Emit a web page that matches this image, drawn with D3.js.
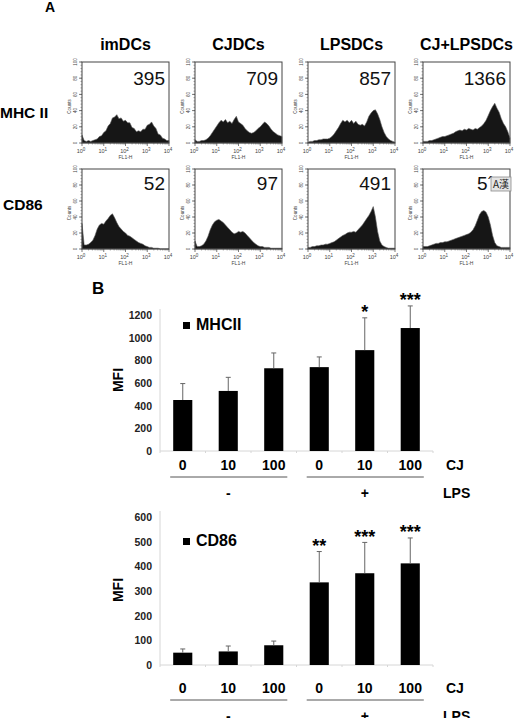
<!DOCTYPE html>
<html>
<head>
<meta charset="utf-8">
<script src="https://cdn.jsdelivr.net/npm/d3@7"></script>
<style>
  body { margin:0; background:#fff; }
  svg { display:block; font-family:"Liberation Sans", Arial, sans-serif; }
</style>
</head>
<body>
<script>
// ---------- panel A data ----------
var cellTypes = ["imDCs", "CJDCs", "LPSDCs", "CJ+LPSDCs"];
var markers = ["MHC II", "CD86"];
var mfiMHC = ["395", "709", "857", "1366"];
var mfiCD86 = ["52", "97", "491", "5´"];
// FL1-H channel, log10 decades
var logBins = [0,0.1,0.2,0.3,0.4,0.5,0.6,0.7,0.8,0.9,1,1.1,1.2,1.3,1.4,1.5,1.6,1.7,1.8,1.9,2,
               2.1,2.2,2.3,2.4,2.5,2.6,2.7,2.8,2.9,3,3.1,3.2,3.3,3.4,3.5,3.6,3.7,3.8,3.9,4];
var countTicks = [0, 20, 40, 60, 80, 100];
var decadeTicks = [0, 1, 2, 3, 4];

var mhcIm    = [10,3,2,3,2,3,4,5,8,9, 13,15,21,24,31,32,35,30,31,27, 28,25,25,19,18,14,15,14,17,17, 22,23,26,21,18,11,10,6,5,3, 3];
var mhcCj    = [4,2,2,3,3,4,6,9,13,17, 21,25,28,26,29,25,27,24,29,33, 26,24,22,18,15,13,12,13,15,18, 20,23,26,24,21,17,14,12,10,9, 8];
var mhcLps   = [1,2,2,3,3,4,4,5,5,5, 6,8,11,15,19,24,28,26,28,25, 28,24,27,23,22,23,21,26,33,37, 40,41,36,29,20,13,8,5,3,2, 1];
var mhcCjLps = [2,2,2,3,3,4,5,6,7,8, 8,9,10,11,12,14,15,16,15,17, 16,18,17,16,18,17,19,21,24,28, 34,40,45,49,43,38,30,24,20,14, 6];
var cdIm     = [32,5,5,6,8,11,17,25,30,32, 31,35,38,42,44,39,33,28,25,22, 20,17,16,14,12,10,8,7,6,4, 3,2,2,1,1,1,0,0,0,0, 0];
var cdCj     = [10,3,3,4,6,10,16,24,30,34, 36,37,35,33,30,27,24,21,19,20, 22,21,22,20,17,14,11,8,6,4, 3,3,2,2,2,1,1,1,1,1, 1];
var cdLps    = [2,2,3,3,4,4,5,5,6,6, 7,8,9,11,13,15,17,18,20,21, 21,22,21,24,27,30,34,38,42,47, 53,40,22,10,5,3,2,1,1,1, 1];
var cdCjLps  = [3,3,3,4,5,6,7,7,8,8, 9,9,10,11,12,13,14,15,16,17, 18,19,21,24,29,36,43,47,48,46, 40,30,17,8,4,3,2,2,2,2, 2];

// ---------- panel B data ----------
var cjDose = ["0", "10", "100", "0", "10", "100"];
var lpsLabels = ["-", "+"];
var mhcMean = [450, 530, 730, 740, 890, 1085];
var mhcErr  = [145, 120, 135, 90, 285, 195];
var mhcStars = ["", "", "", "", "*", "***"];
var mhcTicks = [0, 200, 400, 600, 800, 1000, 1200];
var cd86Mean = [50, 55, 80, 335, 372, 412];
var cd86Err  = [15, 22, 17, 125, 125, 103];
var cd86Stars = ["", "", "", "**", "***", "***"];
var cd86Ticks = [0, 100, 200, 300, 400, 500, 600];

var W = 517, H = 718;
var svg = d3.select("body").append("svg").attr("width", W).attr("height", H);

// ================= Panel A =================
svg.append("text").attr("x", 45).attr("y", 12).attr("font-size", 14).attr("font-weight", "bold").text("A");

var boxLeft = [82, 195, 308, 423], boxW = 87;
var rowTop = [62, 169], rowBot = [143, 249];
var numBase = [85, 190];
var hists = [[mhcIm, mhcCj, mhcLps, mhcCjLps], [cdIm, cdCj, cdLps, cdCjLps]];
var nums = [mfiMHC, mfiCD86];

cellTypes.forEach(function(t, i){
  svg.append("text").attr("x", boxLeft[i] + boxW/2).attr("y", 50)
    .attr("text-anchor", "middle").attr("font-size", 16).attr("font-weight", "bold").text(t);
});
svg.append("text").attr("x", 0).attr("y", 118).attr("font-size", 15.5).attr("font-weight", "bold").text(markers[0]);
svg.append("text").attr("x", 3).attr("y", 210).attr("font-size", 15.5).attr("font-weight", "bold").text(markers[1]);

function drawHisto(data, left, top, bot, num){
  var g = svg.append("g");
  var xs = d3.scaleLinear().domain([0, 4]).range([left, left + boxW]);
  var ys = d3.scaleLinear().domain([0, 100]).range([bot, top]);

  var area = d3.area()
    .x(function(d, i){ return xs(logBins[i]); })
    .y0(ys(0))
    .y1(function(d){ return ys(d); });
  g.append("path").datum(data).attr("d", area)
    .attr("fill", "#161616").attr("stroke", "#5a5a5a").attr("stroke-width", 0.6);

  g.append("rect").attr("x", left).attr("y", top).attr("width", boxW).attr("height", bot - top)
    .attr("fill", "none").attr("stroke", "#444").attr("stroke-width", 1);

  // y ticks: minor every 4 counts, major every 20
  var minor = d3.range(0, 101, 4);
  g.selectAll(".ym").data(minor).enter().append("line")
    .attr("x1", left).attr("x2", left - 1.5)
    .attr("y1", function(d){ return ys(d); }).attr("y2", function(d){ return ys(d); })
    .attr("stroke", "#555").attr("stroke-width", 0.5);
  g.selectAll(".yM").data(countTicks).enter().append("line")
    .attr("x1", left).attr("x2", left - 3)
    .attr("y1", function(d){ return ys(d); }).attr("y2", function(d){ return ys(d); })
    .attr("stroke", "#444").attr("stroke-width", 0.7);
  g.selectAll(".yl").data(countTicks).enter().append("text")
    .attr("transform", function(d){ return "translate(" + (left - 5) + "," + ys(d) + ") rotate(-90)"; })
    .attr("text-anchor", "middle").attr("font-size", 4.5).attr("fill", "#444").text(function(d){ return d; });
  g.append("text")
    .attr("transform", "translate(" + (left - 11) + "," + ((top + bot)/2 + 4) + ") rotate(-90)")
    .attr("text-anchor", "middle").attr("font-size", 4.5).attr("fill", "#444").text("Counts");

  // x log ticks
  var minorX = [];
  [0, 1, 2, 3].forEach(function(dec){
    [2, 3, 4, 5, 6, 7, 8, 9].forEach(function(m){ minorX.push(dec + Math.log10(m)); });
  });
  g.selectAll(".xm").data(minorX).enter().append("line")
    .attr("x1", function(d){ return xs(d); }).attr("x2", function(d){ return xs(d); })
    .attr("y1", bot).attr("y2", bot + 1.5).attr("stroke", "#555").attr("stroke-width", 0.5);
  g.selectAll(".xM").data(decadeTicks).enter().append("line")
    .attr("x1", function(d){ return xs(d); }).attr("x2", function(d){ return xs(d); })
    .attr("y1", bot).attr("y2", bot + 3).attr("stroke", "#444").attr("stroke-width", 0.7);
  var xl = g.selectAll(".xl").data(decadeTicks).enter().append("text")
    .attr("x", function(d){ return xs(d) - 1; }).attr("y", bot + 10)
    .attr("text-anchor", "middle").attr("font-size", 5.5).attr("fill", "#444");
  xl.append("tspan").text("10");
  xl.append("tspan").attr("dy", -2.5).attr("font-size", 4.5).text(function(d){ return d; });
  g.append("text").attr("x", left + boxW/2).attr("y", bot + 16)
    .attr("text-anchor", "middle").attr("font-size", 5).attr("fill", "#444").text("FL1-H");

  g.append("text").attr("x", num.x).attr("y", num.y)
    .attr("text-anchor", num.anchor).attr("font-size", 19).attr("fill", "#111").text(num.txt);
}

for (var r = 0; r < 2; r++){
  for (var c = 0; c < 4; c++){
    var last = (r === 1 && c === 3);
    var lbl = { txt: nums[r][c], y: numBase[r],
                x: last ? 477 : boxLeft[c] + boxW - 4, anchor: last ? "start" : "end" };
    drawHisto(hists[r][c], boxLeft[c], rowTop[r], rowBot[r], lbl);
  }
}
// IME badge overlaid on the last CD86 number in the source image
svg.append("rect").attr("x", 491).attr("y", 177).attr("width", 20).attr("height", 14)
  .attr("fill", "#e4e4e4").attr("stroke", "#8a8a8a").attr("stroke-width", 0.8);
svg.append("text").attr("x", 501).attr("y", 188).attr("text-anchor", "middle")
  .attr("font-size", 10).attr("fill", "#222").attr("font-family", "'Noto Sans CJK SC', sans-serif").text("A漢");

// ================= Panel B =================
svg.append("text").attr("x", 92).attr("y", 294).attr("font-size", 17).attr("font-weight", "bold").text("B");

var x = d3.scaleBand().domain(d3.range(cjDose.length)).range([160, 433])
  .paddingInner(0.58).paddingOuter(0.29);

function drawBars(opt){
  var g = svg.append("g");
  var y = d3.scaleLinear().domain([0, opt.max]).range([opt.y0, opt.y1]);

  // axis lines
  g.append("line").attr("x1", 160).attr("x2", 160).attr("y1", y(opt.max) - 6).attr("y2", y(0))
    .attr("stroke", "#d6d6d6").attr("stroke-width", 1);
  g.append("line").attr("x1", 160).attr("x2", 433).attr("y1", y(0)).attr("y2", y(0))
    .attr("stroke", "#d6d6d6").attr("stroke-width", 1);
  g.selectAll(".bt").data(d3.range(cjDose.length + 1)).enter().append("line")
    .attr("x1", function(d){ return 160 + d * x.step(); }).attr("x2", function(d){ return 160 + d * x.step(); })
    .attr("y1", y(0)).attr("y2", y(0) + 2).attr("stroke", "#d6d6d6");

  var yAxis = d3.axisLeft(y).tickValues(opt.ticks).tickFormat(d3.format("d")).tickSize(0).tickPadding(8);
  var ax = g.append("g").attr("transform", "translate(160,0)").call(yAxis);
  ax.select(".domain").remove();
  ax.selectAll("text").attr("font-size", 10.5).attr("font-weight", "bold").attr("fill", "#222")
    .attr("font-family", "'Liberation Sans', Arial, sans-serif");

  g.append("text").attr("transform", "translate(123," + opt.mfiY + ") rotate(-90)")
    .attr("text-anchor", "middle").attr("font-size", 14).attr("font-weight", "bold").text("MFI");

  // bars
  g.selectAll(".bar").data(opt.mean).enter().append("rect")
    .attr("x", function(d, i){ return x(i); }).attr("width", x.bandwidth())
    .attr("y", function(d){ return y(d); }).attr("height", function(d){ return y(0) - y(d); })
    .attr("fill", "#000");
  // error bars (upper only)
  g.selectAll(".eb").data(opt.mean).enter().append("line")
    .attr("x1", function(d, i){ return x(i) + x.bandwidth()/2; })
    .attr("x2", function(d, i){ return x(i) + x.bandwidth()/2; })
    .attr("y1", function(d){ return y(d); })
    .attr("y2", function(d, i){ return y(d + opt.err[i]); })
    .attr("stroke", "#666").attr("stroke-width", 1);
  g.selectAll(".ec").data(opt.mean).enter().append("line")
    .attr("x1", function(d, i){ return x(i) + x.bandwidth()/2 - 2.5; })
    .attr("x2", function(d, i){ return x(i) + x.bandwidth()/2 + 2.5; })
    .attr("y1", function(d, i){ return y(d + opt.err[i]); })
    .attr("y2", function(d, i){ return y(d + opt.err[i]); })
    .attr("stroke", "#666").attr("stroke-width", 1);
  // significance stars
  g.selectAll(".st").data(opt.stars).enter().append("text")
    .attr("x", function(d, i){ return x(i) + x.bandwidth()/2; })
    .attr("y", function(d, i){ return y(opt.mean[i] + opt.err[i]) + 0.5; })
    .attr("text-anchor", "middle").attr("font-size", 18).attr("font-weight", "bold").text(function(d){ return d; });

  // legend
  g.append("rect").attr("x", 183).attr("y", opt.legY - 8).attr("width", 7).attr("height", 7).attr("fill", "#000");
  g.append("text").attr("x", 196).attr("y", opt.legY).attr("font-size", 16).attr("font-weight", "bold").text(opt.name);

  // CJ dose labels
  g.selectAll(".xl").data(cjDose).enter().append("text")
    .attr("x", function(d, i){ return x(i) + x.bandwidth()/2; }).attr("y", opt.labY)
    .attr("text-anchor", "middle").attr("font-size", 14).attr("font-weight", "bold").text(function(d){ return d; });
  g.append("text").attr("x", 446).attr("y", opt.labY).attr("font-size", 14).attr("font-weight", "bold").text("CJ");

  // LPS group lines and labels
  [[0, 2], [3, 5]].forEach(function(pair, k){
    var x1 = x(pair[0]) - 3, x2 = x(pair[1]) + x.bandwidth() + 4;
    g.append("line").attr("x1", x1).attr("x2", x2).attr("y1", opt.lineY).attr("y2", opt.lineY)
      .attr("stroke", "#555").attr("stroke-width", 1);
    g.append("text").attr("x", (x(pair[0]) + x(pair[1]) + x.bandwidth())/2).attr("y", opt.lineY + 21)
      .attr("text-anchor", "middle").attr("font-size", 14).attr("font-weight", "bold").text(lpsLabels[k]);
  });
  g.append("text").attr("x", 443).attr("y", opt.lineY + 21).attr("font-size", 14).attr("font-weight", "bold").text("LPS");
}

drawBars({ name: "MHCII", mean: mhcMean, err: mhcErr, stars: mhcStars, ticks: mhcTicks,
  max: 1200, y0: 451, y1: 315, mfiY: 380, legY: 330, labY: 470, lineY: 477 });
drawBars({ name: "CD86", mean: cd86Mean, err: cd86Err, stars: cd86Stars, ticks: cd86Ticks,
  max: 600, y0: 665, y1: 517, mfiY: 590, legY: 546, labY: 693, lineY: 700 });
</script>
</body>
</html>
